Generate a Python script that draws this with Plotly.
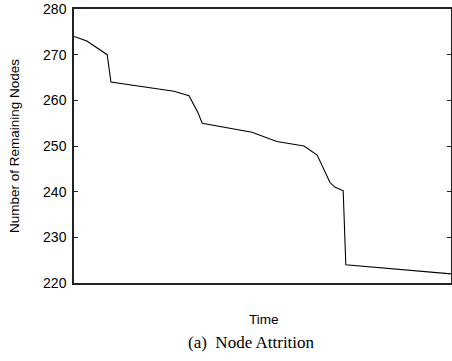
import plotly.graph_objects as go

time = [0, 3.4, 8.8, 9.8, 26.5, 30.5, 32.9, 34.0, 47.2, 53.8, 61.0, 64.5, 67.9, 69.2, 71.4, 72.1, 100]
nodes = [274, 273, 270, 264, 262, 261, 257.3, 255, 253, 251, 250, 248, 242, 241, 240.2, 224, 222]
y_ticks = [220, 230, 240, 250, 260, 270, 280]

fig = go.Figure()
fig.add_trace(go.Scatter(x=time, y=nodes, mode="lines",
                         line=dict(color="black", width=1.1), showlegend=False))

fig.update_layout(
    width=452, height=361,
    margin=dict(l=74, r=1, t=9, b=78, autoexpand=False),
    paper_bgcolor="white", plot_bgcolor="white",
    font=dict(family="Liberation Sans, Arial, sans-serif", color="black"),
    xaxis=dict(range=[0, 100], showline=True, linecolor="#222", linewidth=1.5,
               mirror=True, showticklabels=False, ticks="", showgrid=False,
               zeroline=False, automargin=False),
    yaxis=dict(range=[220, 280], tickvals=y_ticks, showline=True, linecolor="#222",
               linewidth=1.5, mirror="allticks", ticks="inside", ticklen=4,
               tickcolor="#222", showgrid=False, zeroline=False, automargin=False,
               tickfont=dict(size=14), ticklabelstandoff=3),
    annotations=[
        dict(text="Time", xref="paper", yref="paper", x=0.504, y=-0.135,
             xanchor="center", yanchor="middle", showarrow=False, font=dict(size=13.5)),
        dict(text="Number of Remaining Nodes", xref="paper", yref="paper",
             x=-0.159, y=0.5, xanchor="center", yanchor="middle", textangle=-90,
             showarrow=False, font=dict(size=13.5)),
        dict(text="(a)  Node Attrition", xref="paper", yref="paper",
             x=0.6446, y=-0.217, xanchor="right", yanchor="middle", showarrow=False,
             font=dict(family="Liberation Serif, Times New Roman, serif", size=17)),
    ]
)

fig.write_html("out.html", config={"responsive": False, "displayModeBar": False},
               post_script="document.body.style.margin='0';document.body.style.overflow='hidden';")
